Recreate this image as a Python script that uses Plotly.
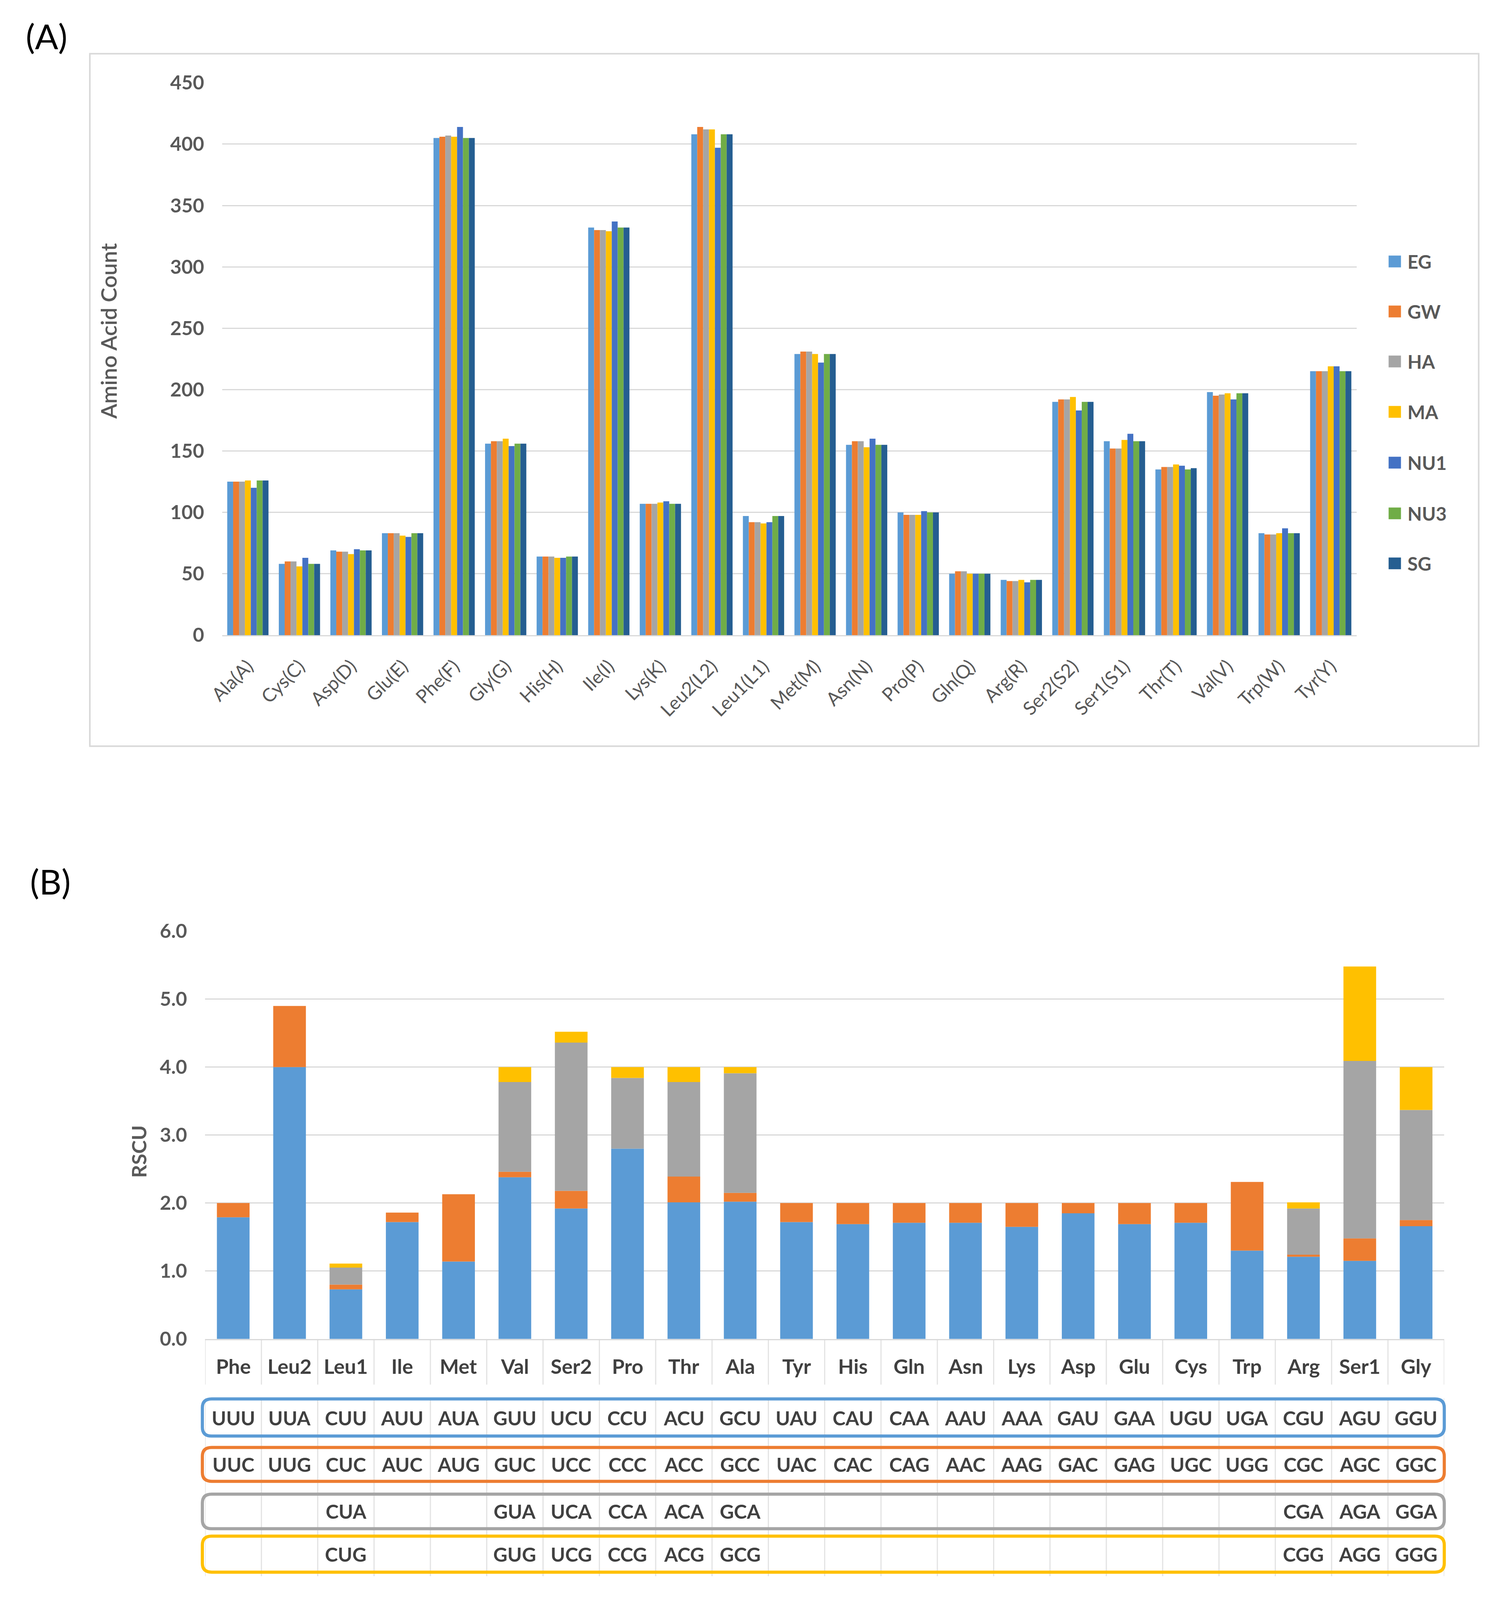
import numpy as np
import plotly.graph_objects as go

# reference canvas size, used to turn pixel positions into paper fractions
W, H = 3823, 4287

# ---- panel A data: amino acid counts per sample ----
aa_labels = ['Ala(A)', 'Cys(C)', 'Asp(D)', 'Glu(E)', 'Phe(F)', 'Gly(G)', 'His(H)', 'Ile(I)',
             'Lys(K)', 'Leu2(L2)', 'Leu1(L1)', 'Met(M)', 'Asn(N)', 'Pro(P)', 'Gln(Q)', 'Arg(R)',
             'Ser2(S2)', 'Ser1(S1)', 'Thr(T)', 'Val(V)', 'Trp(W)', 'Tyr(Y)']
samples = ['EG', 'GW', 'HA', 'MA', 'NU1', 'NU3', 'SG']
count_EG = [125, 58, 69, 83, 405, 156, 64, 332, 107, 408, 97, 229, 155, 100, 50, 45, 190, 158, 135, 198, 83, 215]
count_GW = [125, 60, 68, 83, 406, 158, 64, 330, 107, 414, 92, 231, 158, 98, 52, 44, 192, 152, 137, 195, 82, 215]
count_HA = [125, 60, 68, 83, 407, 158, 64, 330, 107, 412, 92, 231, 158, 98, 52, 44, 192, 152, 137, 196, 82, 215]
count_MA = [126, 56, 66, 81, 406, 160, 63, 329, 108, 412, 91, 229, 153, 98, 50, 45, 194, 159, 139, 197, 83, 219]
count_NU1 = [120, 63, 70, 80, 414, 154, 63, 337, 109, 397, 92, 222, 160, 101, 50, 43, 183, 164, 138, 192, 87, 219]
count_NU3 = [126, 58, 69, 83, 405, 156, 64, 332, 107, 408, 97, 229, 155, 100, 50, 45, 190, 158, 135, 197, 83, 215]
count_SG = [126, 58, 69, 83, 405, 156, 64, 332, 107, 408, 97, 229, 155, 100, 50, 45, 190, 158, 136, 197, 83, 215]

# ---- panel B data: RSCU per codon position ----
rscu_aa = ['Phe', 'Leu2', 'Leu1', 'Ile', 'Met', 'Val', 'Ser2', 'Pro', 'Thr', 'Ala', 'Tyr',
           'His', 'Gln', 'Asn', 'Lys', 'Asp', 'Glu', 'Cys', 'Trp', 'Arg', 'Ser1', 'Gly']
rscu_1 = [1.79, 4.00, 0.73, 1.72, 1.14, 2.38, 1.92, 2.80, 2.01, 2.02, 1.72,
          1.69, 1.71, 1.71, 1.65, 1.85, 1.69, 1.71, 1.30, 1.21, 1.15, 1.66]
rscu_2 = [0.21, 0.90, 0.07, 0.14, 0.99, 0.08, 0.26, 0.00, 0.38, 0.13, 0.28,
          0.31, 0.29, 0.29, 0.35, 0.15, 0.31, 0.29, 1.01, 0.03, 0.33, 0.09]
rscu_3 = [0, 0, 0.25, 0, 0, 1.32, 2.18, 1.04, 1.39, 1.76, 0,
          0, 0, 0, 0, 0, 0, 0, 0, 0.68, 2.61, 1.62]
rscu_4 = [0, 0, 0.06, 0, 0, 0.22, 0.16, 0.16, 0.22, 0.09, 0,
          0, 0, 0, 0, 0, 0, 0, 0, 0.09, 1.39, 0.63]
codon_1 = ['UUU', 'UUA', 'CUU', 'AUU', 'AUA', 'GUU', 'UCU', 'CCU', 'ACU', 'GCU', 'UAU',
           'CAU', 'CAA', 'AAU', 'AAA', 'GAU', 'GAA', 'UGU', 'UGA', 'CGU', 'AGU', 'GGU']
codon_2 = ['UUC', 'UUG', 'CUC', 'AUC', 'AUG', 'GUC', 'UCC', 'CCC', 'ACC', 'GCC', 'UAC',
           'CAC', 'CAG', 'AAC', 'AAG', 'GAC', 'GAG', 'UGC', 'UGG', 'CGC', 'AGC', 'GGC']
codon_3 = ['', '', 'CUA', '', '', 'GUA', 'UCA', 'CCA', 'ACA', 'GCA', '',
           '', '', '', '', '', '', '', '', 'CGA', 'AGA', 'GGA']
codon_4 = ['', '', 'CUG', '', '', 'GUG', 'UCG', 'CCG', 'ACG', 'GCG', '',
           '', '', '', '', '', '', '', '', 'CGG', 'AGG', 'GGG']

sample_colors = ['#5B9BD5', '#ED7D31', '#A5A5A5', '#FFC000', '#4472C4', '#70AD47', '#255E91']
codon_colors = ['#5B9BD5', '#ED7D31', '#A5A5A5', '#FFC000']

TXT = '#595959'
TABLE_TXT = '#404040'
GRID = '#D9D9D9'


def X(v):
    return v / W


def Y(v):
    return 1 - v / H


def rounded_box(x0, y0, x1, y1, r):
    # pixel coordinates (y down) -> paper path with rounded corners
    return (f"M {X(x0 + r)},{Y(y0)} L {X(x1 - r)},{Y(y0)} Q {X(x1)},{Y(y0)} {X(x1)},{Y(y0 + r)} "
            f"L {X(x1)},{Y(y1 - r)} Q {X(x1)},{Y(y1)} {X(x1 - r)},{Y(y1)} "
            f"L {X(x0 + r)},{Y(y1)} Q {X(x0)},{Y(y1)} {X(x0)},{Y(y1 - r)} "
            f"L {X(x0)},{Y(y0 + r)} Q {X(x0)},{Y(y0)} {X(x0 + r)},{Y(y0)} Z")


def label(text, x, y, size, xref='paper', weight='normal', color=TXT, angle=0, xanchor='center'):
    return dict(text=text, x=x, y=y, xref=xref, yref='paper', showarrow=False,
                xanchor=xanchor, yanchor='middle', textangle=angle,
                font=dict(family='Lato', size=size, color=color, weight=weight))


fig = go.Figure()

# panel A grouped bars
counts = [count_EG, count_GW, count_HA, count_MA, count_NU1, count_NU3, count_SG]
for name, vals, col in zip(samples, counts, sample_colors):
    fig.add_trace(go.Bar(x=aa_labels, y=vals, name=name, marker_color=col,
                         marker_line_width=0, xaxis='x', yaxis='y', showlegend=False))

# panel B stacked bars (manual base so panel A can stay grouped)
rscu = [rscu_1, rscu_2, rscu_3, rscu_4]
base = np.zeros(len(rscu_aa))
for i, (vals, col) in enumerate(zip(rscu, codon_colors)):
    fig.add_trace(go.Bar(x=rscu_aa, y=vals, base=base.copy(), marker_color=col,
                         marker_line_width=0, width=0.58, offset=-0.29, offsetgroup='rscu',
                         name=f'codon {i + 1}', xaxis='x2', yaxis='y2', showlegend=False))
    base = base + np.array(vals)

shapes = []
annotations = []

# frame around panel A
shapes.append(dict(type='rect', xref='paper', yref='paper', x0=X(194), x1=X(3786),
                   y0=Y(1995), y1=Y(112), line=dict(color=GRID, width=4), layer='below'))

# legend for panel A (drawn by hand so the keys can be large)
legend_y = [677, 813, 949, 1086, 1224, 1362, 1498]
for name, col, ly in zip(samples, sample_colors, legend_y):
    shapes.append(dict(type='rect', xref='paper', yref='paper', x0=X(3553), x1=X(3585),
                       y0=Y(ly + 16), y1=Y(ly - 16), fillcolor=col, line_width=0))
    annotations.append(label(name, X(3600), Y(ly), 48, weight='bold', xanchor='left'))

# panel labels and axis titles
annotations.append(label('(A)', X(82), Y(64), 88, color='black'))
annotations.append(label('(B)', X(92), Y(2362), 88, color='black'))
annotations.append(label('Amino Acid Count', X(242), Y(866), 56, weight=600, angle=-90))
annotations.append(label('RSCU', X(320), Y(3097), 52, weight='bold', angle=-90))

# panel B table: category row and codon rows
for cat in rscu_aa:
    annotations.append(label(cat, cat, Y(3680), 52, xref='x2', weight='bold', color=TABLE_TXT))

row_centers = [3822, 3948, 4076, 4192]
for codons, yc in zip([codon_1, codon_2, codon_3, codon_4], row_centers):
    for cat, cod in zip(rscu_aa, codons):
        if cod:
            annotations.append(label(cod, cat, Y(yc), 50, xref='x2', weight='bold', color=TABLE_TXT))

# cell dividers
for i in range(len(rscu_aa) + 1):
    for ya, yb in [(3607, 3731), (3768, 4252)]:
        shapes.append(dict(type='line', xref='x2', yref='paper', x0=i - 0.5, x1=i - 0.5,
                           y0=Y(ya), y1=Y(yb), line=dict(color='#E3E3E3', width=3), layer='below'))

# coloured rounded boxes around each codon row
box_rows = [(3770, 3871), (3902, 3994), (4029, 4123), (4143, 4241)]
for (y0, y1), col in zip(box_rows, codon_colors):
    shapes.append(dict(type='path', xref='paper', yref='paper', path=rounded_box(485, y0, 3697, y1, 24),
                       line=dict(color=col, width=8)))

fig.update_layout(
    autosize=True,
    margin=dict(l=0, r=0, t=0, b=0),
    paper_bgcolor='white', plot_bgcolor='white',
    barmode='group', bargap=0.2, bargroupgap=0,
    showlegend=False,
    shapes=shapes, annotations=annotations,
    xaxis=dict(domain=[X(536), X(3470)], anchor='y', categoryorder='array', categoryarray=aa_labels,
               tickangle=-45, tickfont=dict(family='Lato', size=48, color=TXT),
               showline=True, linecolor=GRID, linewidth=3, showgrid=False, ticks='',
               ticklabelstandoff=30),
    yaxis=dict(domain=[Y(1693), Y(191)], anchor='x', range=[0, 450], dtick=50,
               showgrid=True, gridcolor=GRID, gridwidth=3, zeroline=False, showline=False,
               tickfont=dict(family='Lato', size=50, color=TXT, weight='bold'),
               ticklabelstandoff=45),
    xaxis2=dict(domain=[X(492), X(3697)], anchor='y2', categoryorder='array', categoryarray=rscu_aa,
                range=[-0.5, len(rscu_aa) - 0.5], showticklabels=False,
                showline=True, linecolor=GRID, linewidth=3, showgrid=False, ticks=''),
    yaxis2=dict(domain=[Y(3607), Y(2498)], anchor='x2', range=[0, 6], dtick=1, tickformat='.1f',
                showgrid=True, gridcolor=GRID, gridwidth=3, zeroline=False, showline=False,
                tickfont=dict(family='Lato', size=50, color=TXT, weight='bold'),
                ticklabelstandoff=45),
)

# fill the browser window exactly: no body margin, no scrollbars
fit_window = ("document.body.style.margin='0';"
              "document.documentElement.style.overflow='hidden';"
              "Plotly.Plots.resize(document.getElementById('{plot_id}'));")

fig.write_html("out.html", default_width='100vw', default_height='100vh',
               post_script=fit_window, config={'displayModeBar': False})
